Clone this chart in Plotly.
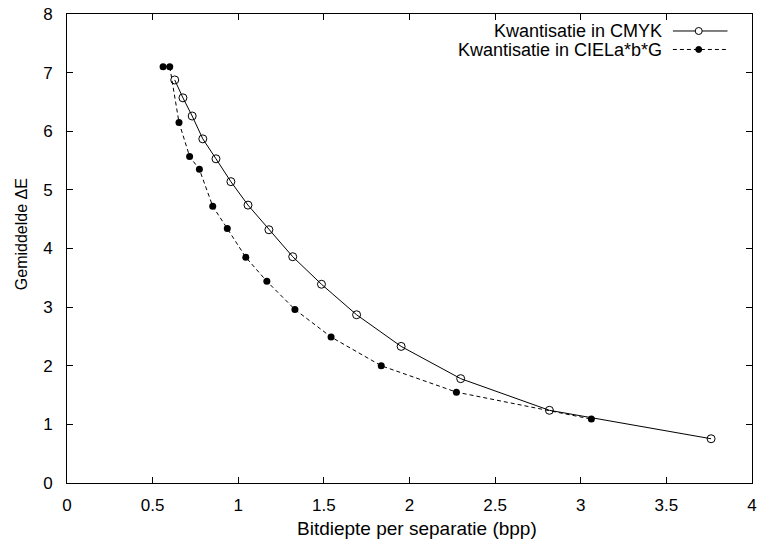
import plotly.graph_objects as go

# Data
cmyk_x = [0.629, 0.677, 0.731, 0.793, 0.870, 0.957, 1.057, 1.179, 1.318, 1.486,
          1.691, 1.951, 2.299, 2.817, 3.761]
cmyk_y = [6.875, 6.57, 6.26, 5.87, 5.53, 5.14, 4.74, 4.32, 3.86, 3.39,
          2.87, 2.33, 1.78, 1.24, 0.755]

lab_x = [0.561, 0.600, 0.654, 0.716, 0.773, 0.851, 0.936, 1.044, 1.167, 1.331,
         1.542, 1.835, 2.274, 3.062]
lab_y = [7.10, 7.10, 6.15, 5.57, 5.35, 4.72, 4.34, 3.85, 3.44, 2.96,
         2.49, 2.00, 1.55, 1.09]

x_ticks = [0, 0.5, 1, 1.5, 2, 2.5, 3, 3.5, 4]
x_tick_labels = ["0", "0.5", "1", "1.5", "2", "2.5", "3", "3.5", "4"]
y_ticks = [0, 1, 2, 3, 4, 5, 6, 7, 8]

series_names = ["Kwantisatie in CMYK", "Kwantisatie in CIELa*b*G"]
x_title = "Bitdiepte per separatie (bpp)"
y_title = "Gemiddelde ΔE"

FONT = "Liberation Sans, Arial, Helvetica, sans-serif"

fig = go.Figure()
fig.add_trace(go.Scatter(
    x=cmyk_x, y=cmyk_y, mode="lines+markers", name=series_names[0],
    line=dict(color="black", width=1),
    marker=dict(symbol="circle-open", size=8, color="black", line=dict(width=1)),
    showlegend=False,
))
fig.add_trace(go.Scatter(
    x=lab_x, y=lab_y, mode="lines+markers", name=series_names[1],
    line=dict(color="black", width=1, dash="4px,3px"),
    marker=dict(symbol="circle", size=7, color="black"),
    showlegend=False,
))

axis_common = dict(
    showgrid=False, zeroline=False, showline=True, linecolor="black", linewidth=1,
    mirror="allticks", ticks="inside", ticklen=6, tickcolor="black", tickwidth=1,
    tickfont=dict(family=FONT, size=17, color="black"),
    ticklabeloverflow="allow",
)

PW = 761 - 66.5 - 4.3
PH = 546 - 14 - 62.7


def px_x(p):
    return (p - 66.5) / PW


def px_y(p):
    return (546 - 62.7 - p) / PH


fig.update_layout(
    width=761, height=546,
    margin=dict(l=66.5, r=4.3, t=14, b=62.7),
    paper_bgcolor="white", plot_bgcolor="white",
    font=dict(family=FONT, size=17, color="black"),
    xaxis=dict(range=[0, 4], tickvals=x_ticks, ticktext=x_tick_labels,
               ticklabelstandoff=7, **axis_common),
    yaxis=dict(range=[0, 8], tickvals=y_ticks, ticklabelstandoff=10,
               **axis_common),
)

# Axis titles
fig.add_annotation(x=px_x(419), y=px_y(529), xref="paper", yref="paper",
                   text=x_title, showarrow=False, xanchor="center", yanchor="middle",
                   font=dict(family=FONT, size=19, color="black"))
fig.add_annotation(x=px_x(21.5), y=px_y(234), xref="paper", yref="paper",
                   text=y_title, showarrow=False, textangle=-90,
                   xanchor="center", yanchor="middle",
                   font=dict(family=FONT, size=16, color="black"))

# Custom legend: both labels in one right-aligned text block (tight line
# spacing via a small base font), samples drawn to the right as shapes.
row_y = [31, 49.5]
legend_text = "<br>".join(
    f'<span style="font-size:18px">{n}</span>' for n in series_names)
fig.add_annotation(x=px_x(667), y=px_y(sum(row_y) / 2), xref="paper", yref="paper",
                   text=legend_text, showarrow=False, xanchor="right",
                   yanchor="middle", align="right", borderpad=0,
                   font=dict(family=FONT, size=(row_y[1] - row_y[0]) / 1.3,
                             color="black"))
for ry, dash, filled in [(row_y[0], "solid", False), (row_y[1], "4px,3px", True)]:
    yy = px_y(ry)
    fig.add_shape(type="line", xref="paper", yref="paper",
                  x0=px_x(677), x1=px_x(732), y0=yy, y1=yy,
                  line=dict(color="black", width=1, dash=dash))
    r = 3 if filled else 3.5
    fig.add_shape(type="circle", xref="paper", yref="paper",
                  xsizemode="pixel", ysizemode="pixel",
                  xanchor=px_x(703), yanchor=yy,
                  x0=-r, x1=r, y0=-r, y1=r,
                  fillcolor="black" if filled else "white",
                  line=dict(color="black", width=1))

fig.write_html("out.html")
